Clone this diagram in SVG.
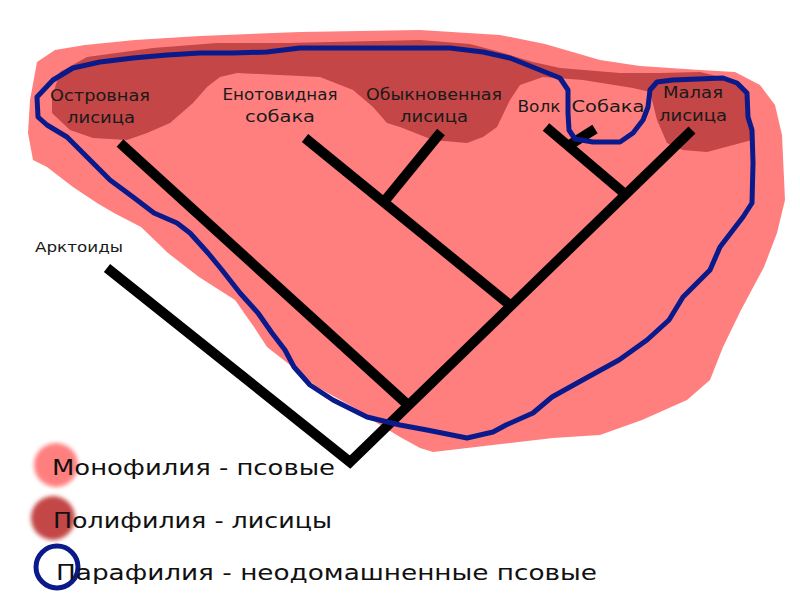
<svg xmlns="http://www.w3.org/2000/svg" width="800" height="600" viewBox="0 0 800 600">
<defs>
<filter id="soft" x="-30%" y="-30%" width="160%" height="160%"><feGaussianBlur stdDeviation="2"/></filter>
<style>
.lbl{font-family:"DejaVu Sans","Liberation Sans",sans-serif;font-size:16px;fill:#1a1a1a;text-anchor:middle}
.leg{font-family:"DejaVu Sans","Liberation Sans",sans-serif;font-size:22px;fill:#111}
.br{stroke:#000;stroke-width:10;fill:none;stroke-linecap:butt}
.mono{fill:#ff7f7f}
.poly{fill:#c44646}
.para{fill:none;stroke:#0b1a8a;stroke-width:5;stroke-linejoin:round}
</style>
</defs>
<rect width="800" height="600" fill="#fff"/>
<g id="monophyly">
<path class="mono" d="M37,62 L55,50 L85,45 L135,40 L200,36 L300,32 L420,30 L500,35 L545,44 L600,60 L640,66 L700,70 L735,72 L760,85 L775,105 L782,135 L785,200 L777,233 L764,267 L741,310 L723,347 L710,380 L687,400 L642,420 L600,435 L553,438 L433,452 L420,448 L400,437 L377,423 L353,407 L317,387 L290,365 L267,347 L254,327 L235,300 L199,277 L168,253 L141,227 L114,213 L97,203 L73,187 L47,167 L33,160 L28,133 L30,100 Z"/>
</g>
<g id="polyphyly">
<path class="poly" d="M60,72 L87,57 L153,48 L217,43 L287,43 L420,40 L470,44 L500,52 L533,62 L560,68 L620,73 L660,73 L700,72 L733,80 L747,93 L752,140 L707,152 L683,150 L667,143 L657,120 L650,92 L633,88 L583,80 L543,77 L520,85 L510,100 L497,127 L483,137 L467,143 L433,140 L400,127 L387,123 L373,107 L353,90 L320,77 L237,73 L220,77 L207,87 L193,103 L170,123 L147,133 L127,140 L93,138 L70,130 L52,113 L52,97 Z"/>
</g>
<g id="connectors">
<polyline class="br" points="107,268 350,462 692,130"/>
<line class="br" x1="120" y1="143" x2="408" y2="405"/>
<line class="br" x1="305" y1="138" x2="510" y2="305"/>
<line class="br" x1="441" y1="132" x2="383" y2="203"/>
<line class="br" x1="546" y1="127" x2="625" y2="194"/>
<line class="br" x1="595" y1="129" x2="568" y2="146"/>
</g>
<g id="paraphyly">
<path class="para" d="M37,97 L53,80 L73,68 L100,62 L133,58 L167,55 L200,53 L233,53 L267,52 L300,48 L400,48 L450,48 L483,52 L510,58 L540,70 L560,78 L568,90 L568,113 L569,130 L575,139 L593,142 L620,142 L633,133 L643,120 L648,107 L650,90 L657,82 L673,80 L723,78 L737,83 L747,93 L748,117 L752,130 L753,163 L752,203 L743,217 L733,230 L720,247 L710,270 L683,297 L669,320 L647,340 L619,360 L588,377 L552,397 L533,413 L506,425 L493,432 L467,438 L427,430 L400,425 L367,417 L333,400 L310,385 L294,367 L285,350 L272,333 L258,313 L240,293 L222,270 L208,253 L190,233 L177,223 L154,213 L133,197 L110,180 L90,160 L67,137 L47,125 L38,117 Z"/>
</g>
<g id="node-ostrovnaya"><text class="lbl" x="100" y="101" textLength="100" lengthAdjust="spacingAndGlyphs">Островная</text><text class="lbl" x="101" y="123" textLength="68" lengthAdjust="spacingAndGlyphs">лисица</text></g>
<g id="node-enotovidnaya"><text class="lbl" x="280" y="100" textLength="115" lengthAdjust="spacingAndGlyphs">Енотовидная</text><text class="lbl" x="280" y="122" textLength="70" lengthAdjust="spacingAndGlyphs">собака</text></g>
<g id="node-obyknovennaya"><text class="lbl" x="434" y="100" textLength="136" lengthAdjust="spacingAndGlyphs">Обыкновенная</text><text class="lbl" x="434" y="122" textLength="68" lengthAdjust="spacingAndGlyphs">лисица</text></g>
<g id="node-volk"><text class="lbl" x="539" y="112" textLength="43" lengthAdjust="spacingAndGlyphs">Волк</text></g>
<g id="node-sobaka"><text class="lbl" x="608" y="112" textLength="73" lengthAdjust="spacingAndGlyphs">Собака</text></g>
<g id="node-malaya"><text class="lbl" x="693" y="98" textLength="60" lengthAdjust="spacingAndGlyphs">Малая</text><text class="lbl" x="693" y="121" textLength="68" lengthAdjust="spacingAndGlyphs">лисица</text></g>
<g id="node-arktoidy"><text class="lbl" x="79" y="252" style="font-size:14px" textLength="88" lengthAdjust="spacingAndGlyphs">Арктоиды</text></g>
<g id="legend">
<circle cx="56" cy="465" r="22" class="mono" filter="url(#soft)"/>
<circle cx="53" cy="518" r="22" class="poly" filter="url(#soft)"/>
<circle cx="57" cy="567" r="21" fill="none" stroke="#0b1a8a" stroke-width="5"/>
<text class="leg" x="52" y="475" textLength="283" lengthAdjust="spacingAndGlyphs">Монофилия - псовые</text>
<text class="leg" x="53" y="528" textLength="279" lengthAdjust="spacingAndGlyphs">Полифилия - лисицы</text>
<text class="leg" x="56" y="580" textLength="541" lengthAdjust="spacingAndGlyphs">Парафилия - неодомашненные псовые</text>
</g>
</svg>
